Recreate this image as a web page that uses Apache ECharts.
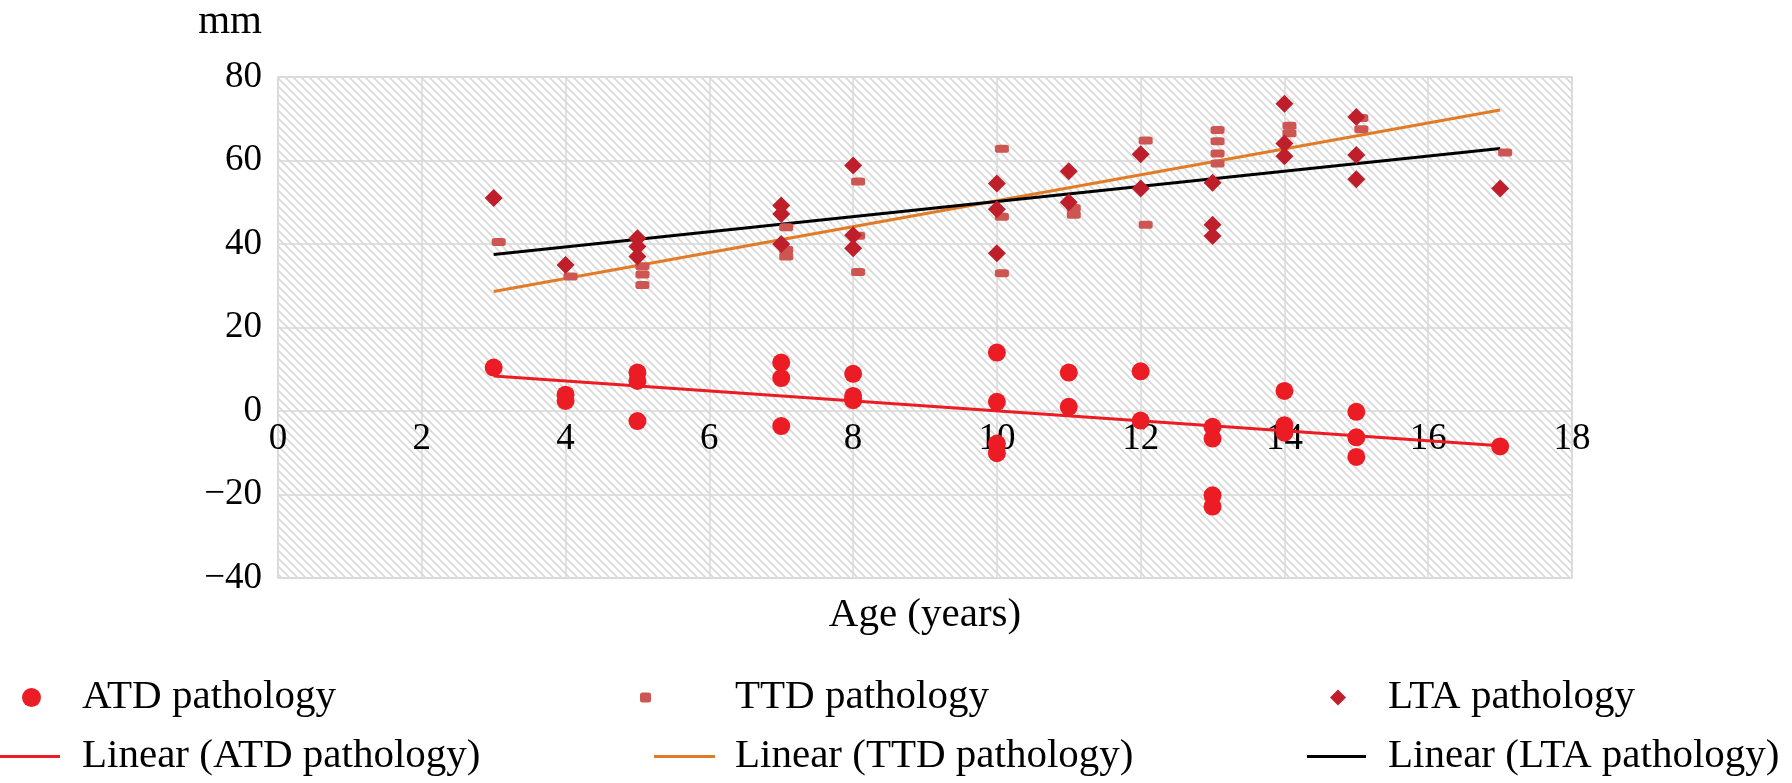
<!DOCTYPE html>
<html>
<head>
<meta charset="utf-8">
<script src="https://cdn.jsdelivr.net/npm/echarts@6/dist/echarts.min.js"></script>
<style>
html,body{margin:0;padding:0;background:#ffffff;}
#chart{width:1792px;height:783px;}
</style>
</head>
<body>
<div id="chart"></div>
<script>
// ---------- data (age in years, value in mm) ----------
const atdPoints = [
  [3,10.4],
  [4,3.9],[4,2.4],
  [5,9.2],[5,7.2],[5,-2.4],
  [7,11.6],[7,7.9],[7,-3.6],
  [8,8.9],[8,3.6],[8,2.6],
  [10,14.0],[10,2.2],[10,-7.8],[10,-10.1],
  [11,9.2],[11,1.0],
  [12,9.5],[12,-2.3],
  [13,-3.8],[13,-6.6],[13,-20.2],[13,-22.9],
  [14,4.8],[14,-3.4],[14,-5.2],
  [15,-0.2],[15,-6.3],[15,-11.0],
  [17,-8.5]
];
const ttdPoints = [
  [3,40.5],
  [4,32.2],
  [5,34.7],[5,32.7],[5,30.2],
  [7,44.0],[7,38.6],[7,37.0],
  [8,55.0],[8,42.0],[8,33.3],
  [10,62.8],[10,46.5],[10,33.0],
  [11,48.6],[11,47.0],
  [12,64.8],[12,44.6],
  [13,67.3],[13,64.6],[13,61.7],[13,59.3],
  [14,68.3],[14,66.5],
  [15,70.2],[15,67.5],
  [17,61.9]
];
const ltaPoints = [
  [3,51.0],
  [4,35.0],
  [5,41.4],[5,39.4],[5,37.0],
  [7,49.2],[7,47.2],[7,40.0],
  [8,58.8],[8,42.1],[8,39.0],
  [10,54.5],[10,48.3],[10,37.8],
  [11,57.4],[11,50.0],
  [12,61.5],[12,53.3],
  [13,54.7],[13,44.6],[13,41.9],
  [14,73.6],[14,64.1],[14,61.0],
  [15,70.4],[15,61.3],[15,55.5],
  [17,53.3]
];
// trend lines (as drawn in the reference: endpoints)
const atdTrend = [[3,8.4],[17,-8.3]];
const ttdTrend = [[3,28.6],[17,72.1]];
const ltaTrend = [[3,37.5],[17,62.9]];

const seriesNames = ['ATD pathology','TTD pathology','LTA pathology'];
const trendNames = ['Linear (ATD pathology)','Linear (TTD pathology)','Linear (LTA pathology)'];
const xTitle = 'Age (years)';
const yTitle = 'mm';

// ---------- styling ----------
const FONT = "'Liberation Serif','DejaVu Serif',serif";
const C_ATD = '#ec1c24';
const C_TTD = '#cd5552';
const C_LTA = '#bf1e2b';
const C_ORANGE = '#e27b27';
const GRID_C = '#d9d9d9';

function makeHatch() {
  const c = document.createElement('canvas');
  c.width = 8; c.height = 8;
  const g = c.getContext('2d');
  g.fillStyle = '#ffffff';
  g.fillRect(0, 0, 8, 8);
  g.strokeStyle = '#d8d8d8';
  g.lineWidth = 1.6;
  g.beginPath();
  [-8, 0, 8].forEach(k => { g.moveTo(-2, -2 + k); g.lineTo(10, 10 + k); });
  g.stroke();
  return c;
}

const chart = echarts.init(document.getElementById('chart'), null, {renderer: 'canvas'});

function legendItem(name, left, top, w, h, pad, icon) {
  const item = icon ? {name: name, icon: icon} : name;
  return {
    data: [item], left: left, top: top, padding: 0,
    itemWidth: w, itemHeight: h, selectedMode: false,
    symbolKeepAspect: !icon,
    textStyle: {fontFamily: FONT, fontSize: 41, color: '#000', padding: [0, 0, 0, pad]}
  };
}

const option = {
  animation: false,
  backgroundColor: '#ffffff',
  grid: {
    left: 278, right: 220, top: 77, bottom: 205,
    show: true,
    backgroundColor: {image: makeHatch(), repeat: 'repeat'},
    borderColor: GRID_C, borderWidth: 1.5
  },
  xAxis: {
    type: 'value', min: 0, max: 18, interval: 2,
    offset: -167,
    axisLine: {show: false, onZero: false},
    axisTick: {show: false},
    splitLine: {show: true, lineStyle: {color: GRID_C, width: 1.5}},
    axisLabel: {fontFamily: FONT, fontSize: 37, color: '#000', margin: 10}
  },
  yAxis: {
    type: 'value', min: -40, max: 80, interval: 20,
    axisLine: {show: false, onZero: false},
    axisTick: {show: false},
    splitLine: {show: true, lineStyle: {color: GRID_C, width: 1.5}},
    axisLabel: {
      fontFamily: FONT, fontSize: 37, color: '#000', margin: 16,
      formatter: v => v < 0 ? '\u2212' + Math.abs(v) : String(v)
    }
  },
  legend: [
    legendItem(seriesNames[0], 22, 677, 19, 19, 36),
    legendItem(seriesNames[1], 640, 677, 11, 10, 79),
    legendItem(seriesNames[2], 1330, 677, 16, 16, 37),
    legendItem(trendNames[0], 0, 736, 60, 3, 17, 'rect'),
    legendItem(trendNames[1], 654, 736, 61, 3, 15, 'rect'),
    legendItem(trendNames[2], 1307, 736, 59, 3, 17, 'rect')
  ],
  graphic: [
    {type: 'text', x: 925, y: 615, style: {text: xTitle, font: '41px ' + FONT, fill: '#000', textAlign: 'center', textVerticalAlign: 'middle'}},
    {type: 'text', x: 262, y: 22, style: {text: yTitle, font: '41px ' + FONT, fill: '#000', textAlign: 'right', textVerticalAlign: 'middle'}}
  ],
  series: [
    {name: trendNames[0], type: 'line', data: atdTrend, symbol: 'none', showSymbol: false, z: 2, silent: true,
     lineStyle: {color: C_ATD, width: 3}, itemStyle: {color: C_ATD}},
    {name: trendNames[1], type: 'line', data: ttdTrend, symbol: 'none', showSymbol: false, z: 2, silent: true,
     lineStyle: {color: C_ORANGE, width: 3}, itemStyle: {color: C_ORANGE}},
    {name: trendNames[2], type: 'line', data: ltaTrend, symbol: 'none', showSymbol: false, z: 2, silent: true,
     lineStyle: {color: '#000000', width: 3}, itemStyle: {color: '#000000'}},
    {name: seriesNames[0], type: 'scatter', data: atdPoints, symbol: 'circle', symbolSize: 18, z: 3,
     itemStyle: {color: C_ATD, opacity: 1}},
    {name: seriesNames[1], type: 'scatter', data: ttdPoints, symbol: 'roundRect', symbolSize: [14, 8],
     symbolOffset: [5, 0], z: 4, itemStyle: {color: C_TTD, opacity: 1}},
    {name: seriesNames[2], type: 'scatter', data: ltaPoints, symbol: 'diamond', symbolSize: [18, 18], z: 5,
     itemStyle: {color: C_LTA, opacity: 1}}
  ]
};
chart.setOption(option);
</script>
</body>
</html>
